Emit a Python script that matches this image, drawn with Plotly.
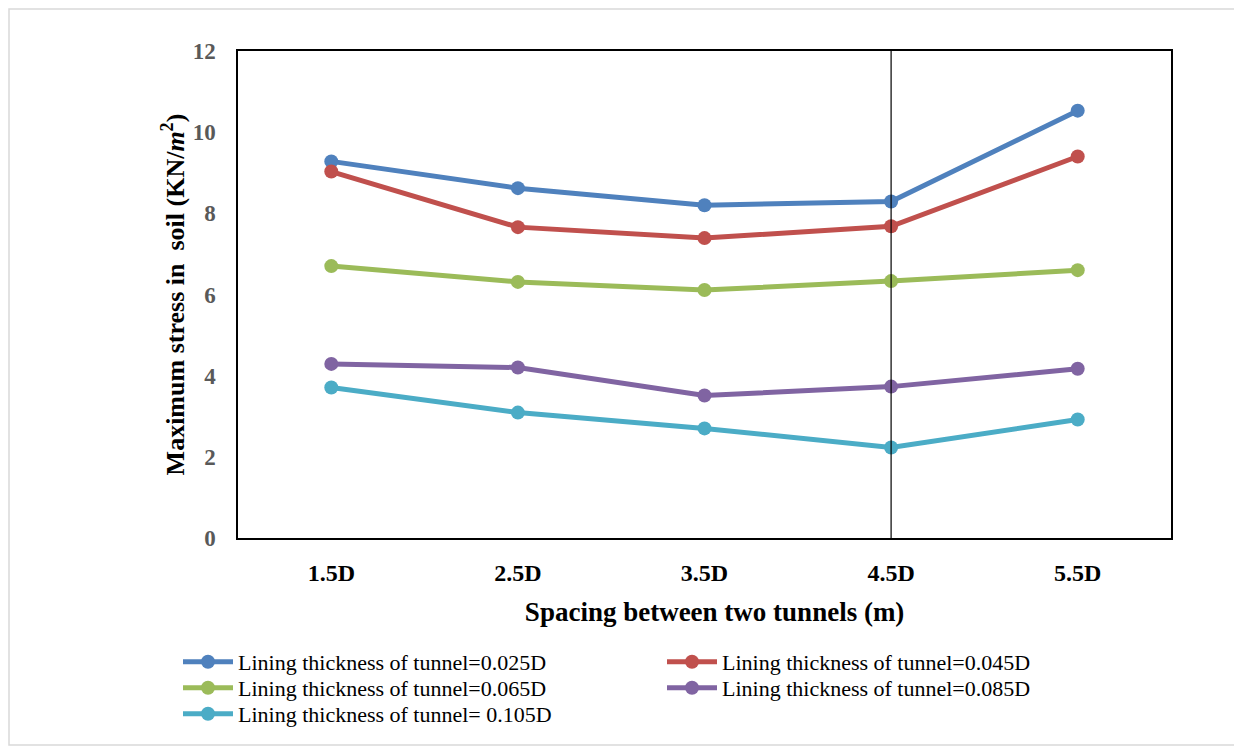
import plotly.graph_objects as go

categories = ["1.5D", "2.5D", "3.5D", "4.5D", "5.5D"]
series_names = [
    "Lining thickness of tunnel=0.025D",
    "Lining thickness of tunnel=0.045D",
    "Lining thickness of tunnel=0.065D",
    "Lining thickness of tunnel=0.085D",
    "Lining thickness of tunnel= 0.105D",
]
t_0025 = [9.28, 8.62, 8.20, 8.29, 10.53]
t_0045 = [9.03, 7.66, 7.39, 7.68, 9.40]
t_0065 = [6.70, 6.31, 6.11, 6.33, 6.60]
t_0085 = [4.29, 4.20, 3.51, 3.73, 4.17]
t_0105 = [3.71, 3.09, 2.70, 2.23, 2.92]
series_values = [t_0025, t_0045, t_0065, t_0085, t_0105]
colors = ["#4F81BD", "#C0504D", "#9BBB59", "#8064A2", "#4BACC6"]
legend_rows = ["legend", "legend", "legend2", "legend2", "legend3"]
y_ticks = [0, 2, 4, 6, 8, 10, 12]
marker_category = "4.5D"

fig = go.Figure()
for name, vals, c, lg in zip(series_names, series_values, colors, legend_rows):
    fig.add_trace(go.Scatter(
        x=categories, y=vals, name=name, mode="lines+markers",
        line=dict(color=c, width=5),
        marker=dict(color=c, size=14),
        legend=lg,
    ))

# page has an 8px body margin, so the figure is offset by 8px
W, H = 1234, 738
L, R, T, B = 230, 71, 43, 208
pw, ph = W - L - R, H - T - B

fig.add_shape(type="line", xref="x", yref="paper",
              x0=categories.index(marker_category), x1=categories.index(marker_category),
              y0=0, y1=1, line=dict(color="black", width=1.2))
fig.add_shape(type="rect", xref="paper", yref="paper",
              x0=-(L - 1) / pw, x1=(W - 1 - L) / pw,
              y0=-(B - 1) / ph, y1=(ph + T - 1) / ph,
              line=dict(color="#D9D9D9", width=1.5), layer="below")


def legend_at(row_center_px):
    return dict(
        orientation="h", x=(170 - L) / pw, xanchor="left",
        y=-(row_center_px - (H - B)) / ph, yanchor="middle",
        entrywidth=419, entrywidthmode="pixels",
        font=dict(size=22, family="Liberation Serif", color="black"),
        itemwidth=50, tracegroupgap=0,
        bgcolor="rgba(0,0,0,0)",
    )


fig.update_layout(
    width=W, height=H,
    margin=dict(l=L, r=R, t=T, b=B, autoexpand=False),
    paper_bgcolor="white", plot_bgcolor="white",
    font=dict(family="Liberation Serif, Times New Roman, serif", color="black"),
    xaxis=dict(
        type="category", categoryorder="array", categoryarray=categories,
        range=[-0.5, len(categories) - 0.5],
        tickvals=categories, ticktext=[f"<b>{c}</b>" for c in categories],
        showgrid=False, showline=True, linecolor="black", linewidth=1.5, mirror=True,
        ticks="", tickfont=dict(size=24, color="black", family="Liberation Serif"),
        ticklabelstandoff=12,
        title=dict(text="<b>&nbsp;&nbsp;&nbsp;Spacing between two tunnels (m)</b>",
                   font=dict(size=27, family="Liberation Serif"), standoff=18),
    ),
    yaxis=dict(
        range=[0, 12], tickvals=y_ticks, ticktext=[f"<b>{v}</b>" for v in y_ticks],
        showgrid=False, zeroline=False, showline=True, linecolor="black", linewidth=1.5, mirror=True,
        ticks="", tickfont=dict(size=23, color="#595959", family="Liberation Serif"),
        ticklabelstandoff=16,
        title=dict(text="<b>Maximum stress in  soil (KN/<i>m</i><sup>2</sup>)</b>",
                   font=dict(size=26, family="Liberation Serif"), standoff=1),
    ),
    legend=legend_at(654),
    legend2=legend_at(680),
    legend3=legend_at(706),
)

fig.write_html("out.html")
